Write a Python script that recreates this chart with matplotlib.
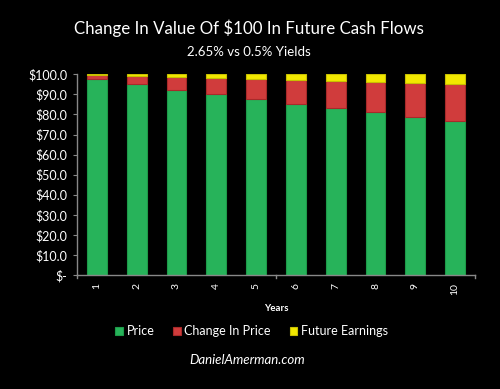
import matplotlib
matplotlib.use("Agg")
import matplotlib.pyplot as plt
from matplotlib.ticker import FuncFormatter

matplotlib.rcParams.update({
    "font.family": ["Lato", "DejaVu Sans"],
    "text.color": "white",
})

years = ["1", "2", "3", "4", "5", "6", "7", "8", "9", "10"]
price = [97.5, 95.0, 92.4, 90.2, 87.6, 85.4, 83.1, 81.0, 78.8, 76.8]
change_in_price = [2.0, 4.0, 6.1, 7.8, 9.9, 11.6, 13.4, 15.0, 16.7, 18.2]
future_earnings = [0.5, 1.0, 1.5, 2.0, 2.5, 3.0, 3.5, 4.0, 4.5, 5.0]

GREEN = "#27b35a"
RED = "#d03c3c"
YELLOW = "#f2e800"

fig = plt.figure(figsize=(5.0, 3.89), dpi=100, facecolor="black")
ax = fig.add_axes([0.154, 0.293, 0.796, 0.516], facecolor="black")

x = list(range(len(years)))
bottom2 = [p for p in price]
bottom3 = [p + c for p, c in zip(price, change_in_price)]
w = 0.5
ax.bar(x, price, width=w, color=GREEN, edgecolor="#1d9a48", linewidth=0.8, label="Price")
ax.bar(x, change_in_price, width=w, bottom=bottom2, color=RED, edgecolor="#a82a2a",
       linewidth=0.8, label="Change In Price")
ax.bar(x, future_earnings, width=w, bottom=bottom3, color=YELLOW, edgecolor="#c8c000",
       linewidth=0.8, label="Future Earnings")

ax.set_xlim(-0.5, len(years) - 0.5)
ax.set_ylim(0, 100)
ax.set_yticks(range(0, 101, 10))
ax.yaxis.set_major_formatter(FuncFormatter(lambda v, p: "$-" if v == 0 else "${:.1f}".format(v)))
ax.set_xticks(x)
ax.set_xticklabels(years, rotation=90, fontsize=7.5, color="white")
ax.tick_params(axis="x", length=0, pad=6)
ax.tick_params(axis="y", colors="#888888", labelcolor="white", labelsize=9, length=3, pad=4)
# tick marks every 5 categories
for tx in [-0.5, 4.5, 9.5]:
    ax.plot([tx, tx], [0, -1.5], color="#888888", lw=1, clip_on=False)

for s in ["top", "right"]:
    ax.spines[s].set_visible(False)
for s in ["left", "bottom"]:
    ax.spines[s].set_color("#888888")
    ax.spines[s].set_linewidth(1)

ax.set_xlabel("Years", fontsize=7, fontweight="bold", color="white", labelpad=6)

fig.text(0.497, 0.928, "Change In Value Of $100 In Future Cash Flows", ha="center", va="center",
         fontsize=12.2, color="white")
fig.text(0.497, 0.866, "2.65% vs 0.5% Yields", ha="center", va="center",
         fontsize=9.5, color="white")

leg = fig.legend(loc="center", bbox_to_anchor=(0.503, 0.148), ncol=3, frameon=False,
                 fontsize=9, handlelength=0.6, handleheight=0.6, handletextpad=0.3,
                 columnspacing=1.5)
for t in leg.get_texts():
    t.set_color("white")

fig.text(0.494, 0.074, "DanielAmerman.com", ha="center", va="center",
         fontsize=9.5, style="italic", color="white")

fig.savefig("out.png", dpi=100, facecolor="black")
